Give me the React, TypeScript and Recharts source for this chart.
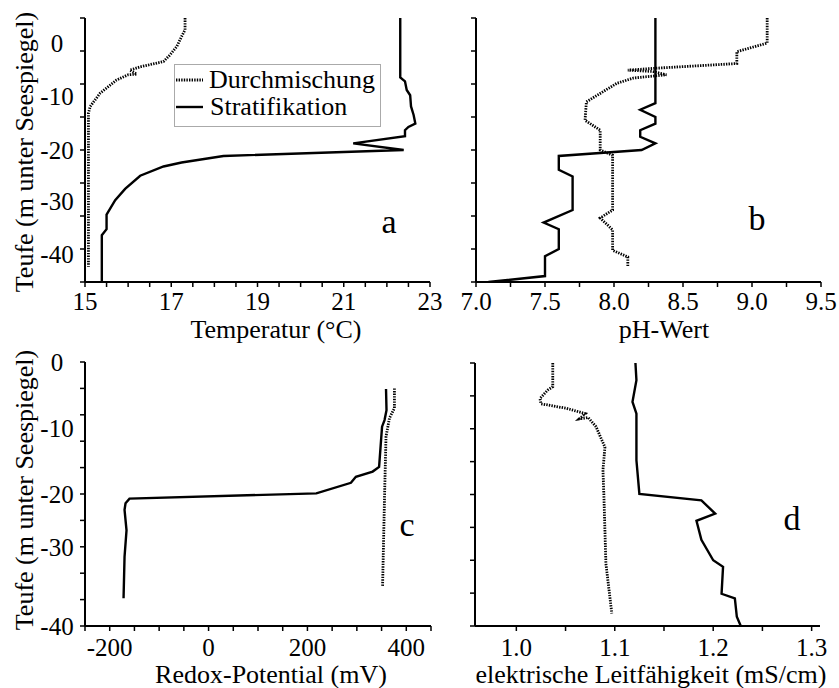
import React from 'react';
import { ScatterChart, Scatter, XAxis, YAxis } from 'recharts';

const FONT = 'Liberation Serif, Times New Roman, DejaVu Serif, serif';

type Pt = [number, number]; // [value, depth in m]

const seriesNames = ['Durchmischung', 'Stratifikation'];

// a: Temperatur (°C)
const tempMix: Pt[] = [
  [17.32, 0], [17.32, -1.8], [17.24, -2.8], [17.13, -4.3], [16.97, -5.6], [16.82, -6.6],
  [16.28, -7.4], [16.04, -7.9], [16.2, -8.5], [16.0, -8.6], [15.73, -9.4], [15.35, -11.4],
  [15.12, -13.4], [15.08, -14.4], [15.08, -37.7],
];
const tempStrat: Pt[] = [
  [22.31, 0], [22.31, -9.0], [22.42, -9.6], [22.46, -10.9], [22.54, -11.7], [22.56, -13.4],
  [22.62, -14.7], [22.66, -16.0], [22.5, -16.5], [22.42, -17.0], [22.42, -17.9], [21.22, -19.0],
  [22.39, -20.0], [18.21, -20.9], [17.24, -21.9], [16.82, -22.5], [16.28, -23.9], [15.93, -25.9],
  [15.7, -27.6], [15.5, -29.8], [15.5, -32.0], [15.39, -32.9], [15.39, -40],
];

// b: pH-Wert
const phMix: Pt[] = [
  [9.11, 0], [9.11, -3.8], [8.89, -5.1], [8.89, -6.9], [8.31, -7.6], [8.1, -7.9], [8.28, -8.1],
  [8.38, -8.6], [8.14, -9.1], [8.02, -9.9], [7.8, -12.7], [7.79, -15.5], [7.9, -17], [7.9, -20],
  [7.99, -20.8], [7.99, -29.1], [7.9, -30.3], [7.99, -32.1], [7.99, -35.2], [8.1, -36.2], [8.1, -37.7],
];
const phStrat: Pt[] = [
  [8.3, 0], [8.3, -12.9], [8.19, -13.9], [8.3, -15], [8.3, -16], [8.19, -17], [8.19, -18],
  [8.3, -19], [8.2, -20], [7.6, -20.9], [7.6, -23], [7.7, -24], [7.7, -29.1], [7.49, -31],
  [7.6, -32], [7.6, -35], [7.5, -36.1], [7.5, -39.1], [7.09, -40],
];

// c: Redox-Potential (mV)
const redoxMix: Pt[] = [
  [376, -4.0], [376, -7.0], [366, -8.5], [359, -11.3], [356, -20.4], [352, -34],
];
const redoxStrat: Pt[] = [
  [359, -4.1], [360, -7.3], [356, -8.8], [351, -9.8], [349, -11.8], [345, -15.9], [332, -16.6],
  [298, -17.4], [288, -18.3], [218, -19.9], [-160, -20.7], [-168, -21.4], [-170, -22.4],
  [-166, -25.5], [-170, -29.5], [-172, -35.8],
];

// d: elektrische Leitfähigkeit (mS/cm)
const condMix: Pt[] = [
  [1.037, 0], [1.037, -3.6], [1.032, -4.1], [1.024, -5.4], [1.025, -6.2], [1.051, -6.9],
  [1.07, -7.7], [1.064, -8.5], [1.073, -8.3], [1.081, -9.7], [1.09, -12.8], [1.088, -16.3],
  [1.089, -20.4], [1.091, -30.5], [1.097, -38.1],
];
const condStrat: Pt[] = [
  [1.121, 0], [1.122, -2.6], [1.118, -5.9], [1.122, -7.7], [1.122, -14.8], [1.125, -19.9],
  [1.188, -20.9], [1.202, -22.9], [1.183, -24.0], [1.188, -26.9], [1.2, -30], [1.21, -31],
  [1.2085, -35.1], [1.222, -35.8], [1.224, -38.6], [1.228, -40],
];

// axis ticks
const tempTicks = [15, 15.5, 16, 16.5, 17, 17.5, 18, 18.5, 19, 19.5, 20, 20.5, 21, 21.5, 22, 22.5, 23];
const tempLabels = [15, 17, 19, 21, 23];
const phTicks = [7, 7.25, 7.5, 7.75, 8, 8.25, 8.5, 8.75, 9, 9.25, 9.5];
const phLabels = [7, 7.5, 8, 8.5, 9, 9.5];
const redoxTicks = [-250, -200, -150, -100, -50, 0, 50, 100, 150, 200, 250, 300, 350, 400, 450];
const redoxLabels = [-200, 0, 200, 400];
const condTicks = [1.0, 1.05, 1.1, 1.15, 1.2, 1.25, 1.3];
const condLabels = [1.0, 1.1, 1.2, 1.3];

const depthTicks5 = [0, -5, -10, -15, -20, -25, -30, -35, -40];
const depthTicks4 = [0, -4, -8, -12, -16, -20, -24, -28, -32, -36, -40];
const depthLabels = ['0', '-10', '-20', '-30', '-40'];
const tempDepthLabelAt = [-3.8, -11.9, -20, -27.8, -35.9];
const redoxDepthLabelAt = [0, -10, -20, -28.1, -40];

const toRows = (pts: Pt[]) => pts.map(([v, d]) => ({ v, d }));

const mixLine = { stroke: '#000', strokeWidth: 2.8, strokeDasharray: '1.4 1.2' };
const stratLine = { stroke: '#000', strokeWidth: 2.4 };
const noDot = () => <g />;

interface PanelCfg {
  left: number;
  top: number;
  width: number;
  height: number;
  margin: { top: number; right: number; bottom: number; left: number };
  axisWidth: number;
  xHeight: number;
  xTickMargin: number;
  xDomain: [number, number];
  xTicks: number[];
  xLabels: number[];
  digits: number;
  yTicks: number[];
  yLabelAt: number[];
  mix: Pt[];
  strat: Pt[];
}

function makeDepthTick(cfg: PanelCfg) {
  return (props: any) => {
    const { y, payload } = props;
    const v = payload.value;
    const ax = cfg.axisWidth;
    const li = cfg.yLabelAt.indexOf(v);
    return (
      <g>
        {cfg.yTicks.includes(v) && (
          <line x1={ax - 5} x2={ax} y1={y} y2={y} stroke="#000" strokeWidth={1.5} />
        )}
        {li >= 0 && (
          <text x={57} y={y} dy="0.34em" textAnchor="middle" fontSize={25} fill="#000" style={{ fontFamily: FONT }}>
            {depthLabels[li]}
          </text>
        )}
      </g>
    );
  };
}

function Panel({ cfg }: { cfg: PanelCfg }) {
  const yAll = Array.from(new Set([...cfg.yTicks, ...cfg.yLabelAt])).sort((a, b) => a - b);
  return (
    <div style={{ position: 'absolute', left: cfg.left, top: cfg.top }}>
      <ScatterChart width={cfg.width} height={cfg.height} margin={cfg.margin}>
        <XAxis
          type="number"
          dataKey="v"
          domain={cfg.xDomain}
          ticks={cfg.xTicks}
          interval={0}
          allowDataOverflow
          height={cfg.xHeight}
          tickFormatter={(v: number) => (cfg.xLabels.includes(v) ? v.toFixed(cfg.digits) : '')}
          tick={{ fill: '#000', fontSize: 25, style: { fontFamily: FONT } }}
          tickSize={5}
          tickMargin={cfg.xTickMargin}
          axisLine={{ stroke: '#000', strokeWidth: 2 }}
          tickLine={{ stroke: '#000', strokeWidth: 1.5 }}
        />
        <YAxis
          type="number"
          dataKey="d"
          domain={[-40, 0]}
          ticks={yAll}
          interval={0}
          allowDataOverflow
          width={cfg.axisWidth}
          tickLine={false}
          tick={makeDepthTick(cfg)}
          axisLine={{ stroke: '#000', strokeWidth: 2 }}
        />
        <Scatter
          name={seriesNames[0]}
          data={toRows(cfg.mix)}
          line={mixLine}
          lineType="joint"
          shape={noDot}
          isAnimationActive={false}
        />
        <Scatter
          name={seriesNames[1]}
          data={toRows(cfg.strat)}
          line={stratLine}
          lineType="joint"
          shape={noDot}
          isAnimationActive={false}
        />
      </ScatterChart>
    </div>
  );
}

const panels: PanelCfg[] = [
  {
    left: 0, top: 0, width: 450, height: 340,
    margin: { top: 18, right: 20, bottom: 0, left: 0 }, axisWidth: 85, xHeight: 58, xTickMargin: 5,
    xDomain: [15, 23], xTicks: tempTicks, xLabels: tempLabels, digits: 0,
    yTicks: depthTicks5, yLabelAt: tempDepthLabelAt, mix: tempMix, strat: tempStrat,
  },
  {
    left: 450, top: 0, width: 389, height: 340,
    margin: { top: 18, right: 18, bottom: 0, left: 0 }, axisWidth: 26, xHeight: 58, xTickMargin: 5,
    xDomain: [7, 9.5], xTicks: phTicks, xLabels: phLabels, digits: 1,
    yTicks: depthTicks5, yLabelAt: [], mix: phMix, strat: phStrat,
  },
  {
    left: 0, top: 340, width: 450, height: 348,
    margin: { top: 22, right: 19, bottom: 0, left: 0 }, axisWidth: 85, xHeight: 62, xTickMargin: 7,
    xDomain: [-250, 450], xTicks: redoxTicks, xLabels: redoxLabels, digits: 0,
    yTicks: depthTicks4, yLabelAt: redoxDepthLabelAt, mix: redoxMix, strat: redoxStrat,
  },
  {
    left: 450, top: 340, width: 389, height: 348,
    margin: { top: 23, right: 19, bottom: 0, left: 0 }, axisWidth: 25, xHeight: 62, xTickMargin: 7,
    xDomain: [0.958, 1.3085], xTicks: condTicks, xLabels: condLabels, digits: 1,
    yTicks: depthTicks5, yLabelAt: [], mix: condMix, strat: condStrat,
  },
];

const xTitles = ['Temperatur (°C)', 'pH-Wert', 'Redox-Potential (mV)', 'elektrische Leitfähigkeit (mS/cm)'];
const panelLetters = ['a', 'b', 'c', 'd'];
const yTitle = 'Teufe (m unter Seespiegel)';

export default function App() {
  const txt = { fill: '#000', style: { fontFamily: FONT } };
  return (
    <div
      style={{
        position: 'absolute', left: 0, top: 0, width: 839, height: 688,
        background: '#fff', fontFamily: FONT,
      }}
    >
      {panels.map((p, i) => (
        <Panel key={i} cfg={p} />
      ))}
      <svg
        width={839}
        height={688}
        style={{ position: 'absolute', left: 0, top: 0, pointerEvents: 'none' }}
      >
        {/* axis titles */}
        <text x={276} y={338} textAnchor="middle" fontSize={26} {...txt}>{xTitles[0]}</text>
        <text x={664} y={338} textAnchor="middle" fontSize={26} {...txt}>{xTitles[1]}</text>
        <text x={271} y={683} textAnchor="middle" fontSize={26} {...txt}>{xTitles[2]}</text>
        <text x={651} y={683} textAnchor="middle" fontSize={26} {...txt}>{xTitles[3]}</text>
        <text transform="translate(33,152) rotate(-90)" textAnchor="middle" fontSize={26} {...txt}>{yTitle}</text>
        <text transform="translate(33,490) rotate(-90)" textAnchor="middle" fontSize={26} {...txt}>{yTitle}</text>
        {/* panel letters */}
        <text x={389} y={233} textAnchor="middle" fontSize={34} {...txt}>{panelLetters[0]}</text>
        <text x={757} y={230} textAnchor="middle" fontSize={34} {...txt}>{panelLetters[1]}</text>
        <text x={407} y={536} textAnchor="middle" fontSize={34} {...txt}>{panelLetters[2]}</text>
        <text x={792} y={530} textAnchor="middle" fontSize={34} {...txt}>{panelLetters[3]}</text>
        {/* legend */}
        <rect x={174.5} y={64.5} width={206} height={62} fill="#fff" stroke="#aaa" strokeWidth={1} />
        <line x1={176} x2={203} y1={80} y2={80} {...mixLine} />
        <line x1={176} x2={203} y1={107} y2={107} {...stratLine} />
        <text x={209} y={88} fontSize={26} {...txt}>{seriesNames[0]}</text>
        <text x={210} y={115} fontSize={26} {...txt}>{seriesNames[1]}</text>
      </svg>
    </div>
  );
}
